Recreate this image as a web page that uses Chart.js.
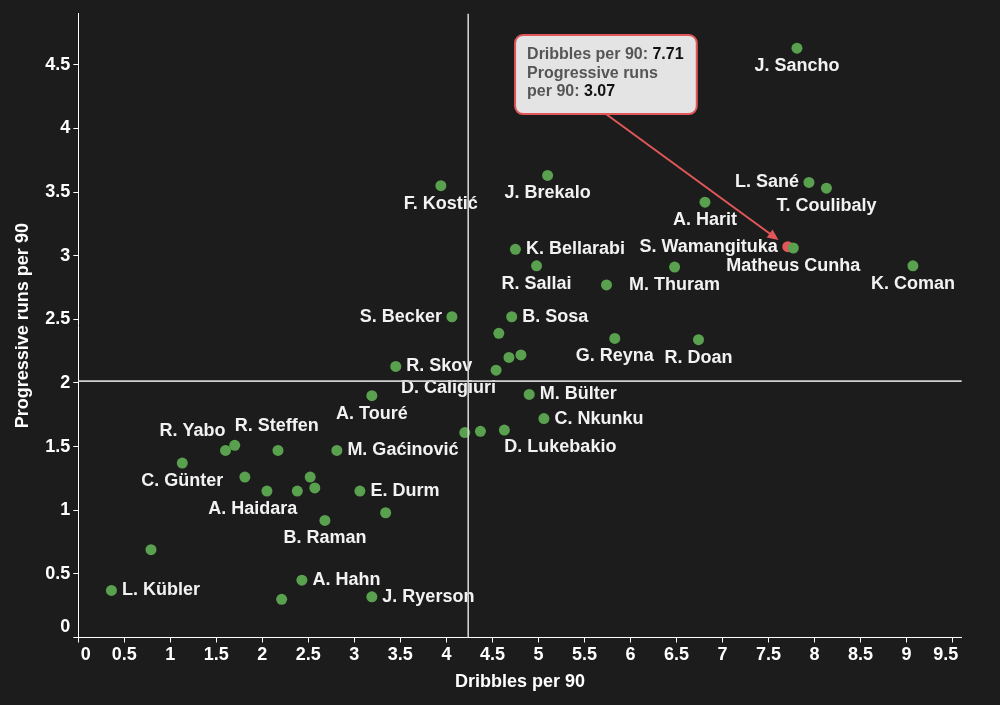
<!DOCTYPE html>
<html>
<head>
<meta charset="utf-8">
<script src="https://cdn.jsdelivr.net/npm/chart.js@4.4.1/dist/chart.umd.min.js"></script>
<style>
  html, body { margin: 0; padding: 0; background: #1c1c1c; }
  #wrap { width: 1000px; height: 705px; }
</style>
</head>
<body>
<div id="wrap"><canvas id="c" width="1000" height="705"></canvas></div>
<script>
// ---- data ----
const players = ['J. Sancho','J. Brekalo','F. Kostić','L. Sané','T. Coulibaly','A. Harit','S. Wamangituka','Matheus Cunha','K. Bellarabi','R. Sallai','','M. Thuram','K. Coman','S. Becker','B. Sosa','','G. Reyna','R. Doan','R. Skov','D. Caligiuri','','','M. Bülter','A. Touré','C. Nkunku','','','D. Lukebakio','R. Yabo','R. Steffen','','M. Gaćinović','C. Günter','','','A. Haidara','','','E. Durm','','B. Raman','','L. Kübler','A. Hahn','','J. Ryerson'];
const dribbles = [7.81,5.10,3.94,7.94,8.13,6.81,7.71,7.77,4.75,4.98,5.74,6.48,9.07,4.06,4.71,4.57,5.83,6.74,3.45,4.54,4.68,4.81,4.90,3.19,5.06,4.20,4.37,4.63,1.60,1.70,2.17,2.81,1.13,1.81,2.05,2.38,2.52,2.57,3.06,3.34,2.68,0.79,0.36,2.43,2.21,3.19];
const progressiveRuns = [4.63,3.63,3.55,3.575,3.53,3.42,3.07,3.06,3.05,2.92,2.77,2.91,2.92,2.52,2.52,2.39,2.35,2.34,2.13,2.10,2.20,2.22,1.91,1.90,1.72,1.61,1.62,1.63,1.47,1.51,1.47,1.47,1.37,1.26,1.15,1.15,1.26,1.175,1.15,0.98,0.92,0.69,0.37,0.45,0.30,0.32];
const highlighted = 'S. Wamangituka';
const medianDribbles = 4.237;
const medianRuns = 2.014;
const xTitle = 'Dribbles per 90';
const yTitle = 'Progressive runs per 90';

// label placement (layout only)
const labelPlacement = {
  'L. Sané':'left','S. Wamangituka':'left','S. Becker':'left',
  'K. Bellarabi':'right','B. Sosa':'right','R. Skov':'right','M. Bülter':'right','C. Nkunku':'right',
  'M. Gaćinović':'right','E. Durm':'right','L. Kübler':'right','A. Hahn':'right','J. Ryerson':'right',
  'D. Caligiuri':'below-end','A. Haidara':'below-end','D. Lukebakio':'below-start',
  'R. Yabo':'above-end','R. Steffen':'above-start'
};

const FONT = '"Liberation Sans", Arial, Helvetica, sans-serif';
const GREEN = '#59a14f';
const RED = '#e15759';

const points = dribbles.map((x, i) => ({ x: x, y: progressiveRuns[i] }));
const colors = players.map(n => n === highlighted ? RED : GREEN);

const overlay = {
  id: 'overlay',
  afterDatasetsDraw(chart) {
    const ctx = chart.ctx;
    const meta = chart.getDatasetMeta(0);
    const xs = chart.scales.x, ys = chart.scales.y, ca = chart.chartArea;
    ctx.save();
    // point labels
    ctx.font = 'bold 18px ' + FONT;
    ctx.fillStyle = '#f2f2f2';
    ctx.textBaseline = 'middle';
    meta.data.forEach((el, i) => {
      const name = players[i];
      if (!name) return;
      const p = labelPlacement[name] || 'below';
      let x = el.x, y = el.y, align = 'center';
      if (p === 'below') { y += 18; }
      else if (p === 'right') { x += 10.5; align = 'left'; }
      else if (p === 'left') { x -= 10; align = 'right'; }
      else if (p === 'below-end') { y += 17.5; align = 'right'; }
      else if (p === 'below-start') { y += 17.5; align = 'left'; }
      else if (p === 'above-end') { y -= 19; align = 'right'; }
      else if (p === 'above-start') { y -= 19; align = 'left'; }
      ctx.textAlign = align;
      ctx.fillText(name, x, y);
    });
    // median lines
    ctx.strokeStyle = '#cfcfcf';
    ctx.lineWidth = 1.6;
    const mx = xs.getPixelForValue(medianDribbles);
    const my = ys.getPixelForValue(medianRuns);
    ctx.beginPath();
    ctx.moveTo(mx, ca.top); ctx.lineTo(mx, ca.bottom);
    ctx.moveTo(ca.left, my); ctx.lineTo(ca.right, my);
    ctx.stroke();

    // tooltip annotation for highlighted player
    const hi = players.indexOf(highlighted);
    const el = meta.data[hi];
    const bx = el.x - 272.7, by = el.y - 211.7, bw = 181.7, bh = 79;
    const sx = bx + bw / 2, sy = by + bh;
    const dx = el.x - sx, dy = el.y - sy, len = Math.hypot(dx, dy);
    const ux = dx / len, uy = dy / len;
    const tx = el.x - ux * 11.5, ty = el.y - uy * 11.5;
    ctx.strokeStyle = RED;
    ctx.fillStyle = RED;
    ctx.lineWidth = 2;
    ctx.beginPath();
    ctx.moveTo(sx, sy);
    ctx.lineTo(tx - ux * 8, ty - uy * 8);
    ctx.stroke();
    ctx.beginPath();
    ctx.moveTo(tx, ty);
    ctx.lineTo(tx - ux * 11 - uy * 5, ty - uy * 11 + ux * 5);
    ctx.lineTo(tx - ux * 11 + uy * 5, ty - uy * 11 - ux * 5);
    ctx.closePath();
    ctx.fill();
    // box
    ctx.beginPath();
    ctx.roundRect(bx, by, bw, bh, 8);
    ctx.fillStyle = '#e4e4e4';
    ctx.fill();
    ctx.lineWidth = 2;
    ctx.strokeStyle = RED;
    ctx.stroke();
    ctx.font = 'bold 16px ' + FONT;
    ctx.textAlign = 'left';
    ctx.textBaseline = 'middle';
    const lx = bx + 12;
    const seg = (parts, y) => {
      let x = lx;
      parts.forEach(([t, c]) => { ctx.fillStyle = c; ctx.fillText(t, x, y); x += ctx.measureText(t).width; });
    };
    seg([['Dribbles per 90: ', '#555555'], [dribbles[hi].toFixed(2), '#111111']], by + 20);
    seg([['Progressive runs', '#555555']], by + 38.5);
    seg([['per 90: ', '#555555'], [progressiveRuns[hi].toFixed(2), '#111111']], by + 57);
    ctx.restore();
  }
};

const bg = {
  id: 'bg',
  beforeDraw(chart) {
    const ctx = chart.ctx;
    ctx.save();
    ctx.fillStyle = '#1c1c1c';
    ctx.fillRect(0, 0, chart.width, chart.height);
    ctx.restore();
  }
};

const tickFont = { family: FONT, size: 18, weight: 'bold' };

new Chart(document.getElementById('c'), {
  type: 'scatter',
  data: {
    datasets: [{
      data: points,
      pointRadius: 5.5,
      pointHoverRadius: 5.5,
      pointBackgroundColor: colors,
      pointBorderWidth: 0,
      pointBorderColor: colors
    }]
  },
  options: {
    responsive: false,
    animation: false,
    devicePixelRatio: 1,
    events: [],
    layout: { padding: { top: 12.3, right: 38.3, left: 0, bottom: 0 } },
    plugins: { legend: { display: false }, tooltip: { enabled: false } },
    scales: {
      x: {
        type: 'linear', min: 0, max: 9.6,
        afterFit(s) { s.height = 67.5; },
        ticks: {
          stepSize: 0.5, includeBounds: false, color: '#ffffff', font: tickFont, padding: 2, maxRotation: 0,
          autoSkip: false,
          callback(v) {
            if (v === 0) return '   0';
            if (Math.abs(v - 9.5) < 1e-9) return '9.5  \u2009';
            return String(v);
          }
        },
        grid: { drawOnChartArea: false, drawTicks: true, tickLength: 5, tickColor: '#ffffff', tickWidth: 1 },
        border: { display: true, color: '#ffffff', width: 1 },
        title: { display: true, text: xTitle, color: '#ffffff', font: tickFont, padding: { top: 0, bottom: 12 } }
      },
      y: {
        type: 'linear', min: 0, max: 4.9,
        afterFit(s) { s.width = 78.3; },
        ticks: {
          stepSize: 0.5, includeBounds: false, color: '#ffffff', font: tickFont, padding: 3,
          autoSkip: false,
          callback(v) {
            if (v === 0) return ['0', ''];
            return String(v);
          }
        },
        grid: { drawOnChartArea: false, drawTicks: true, tickLength: 5, tickColor: '#ffffff', tickWidth: 1 },
        border: { display: true, color: '#ffffff', width: 1 },
        title: { display: true, text: yTitle, color: '#ffffff', font: tickFont, padding: { top: 12, bottom: 0 } }
      }
    }
  },
  plugins: [bg, overlay]
});
</script>
</body>
</html>
